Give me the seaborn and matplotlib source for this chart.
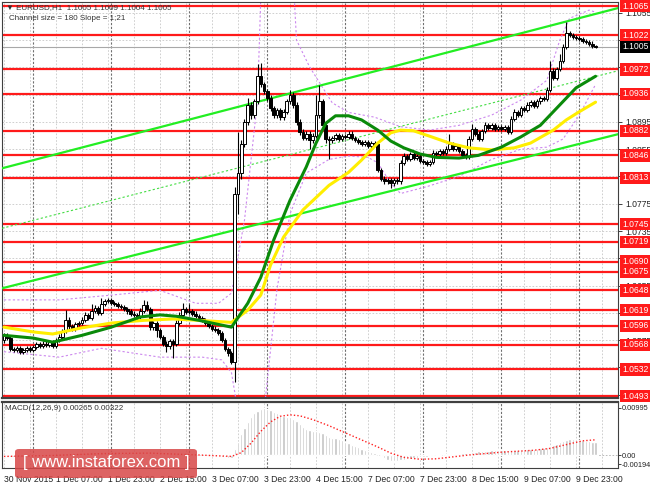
import numpy as np
import matplotlib
matplotlib.use("Agg")
import matplotlib.pyplot as plt
import matplotlib.transforms as mtransforms
from matplotlib.patches import FancyBboxPatch
import seaborn as sns

# ---------------------------------------------------------------
# EURUSD H1, bar 0 = 30 Nov 2015 15:00 ... bar 182 = 10 Dec 05:00
# ---------------------------------------------------------------
first_open = 1.0575
close = [
    1.0582, 1.0578, 1.0562, 1.0560, 1.0563, 1.0558, 1.0561, 1.0564, 1.0560, 1.0565,
    1.0569, 1.0566, 1.0570, 1.0568, 1.0572, 1.0566, 1.0575, 1.0580, 1.0588, 1.0605,
    1.0596, 1.0592, 1.0598, 1.0600, 1.0605, 1.0612, 1.0608, 1.0618, 1.0622, 1.0615,
    1.0628, 1.0632, 1.0634, 1.0630, 1.0628, 1.0625, 1.0624, 1.0620, 1.0617, 1.0614,
    1.0612, 1.0609, 1.0618, 1.0626, 1.0620, 1.0594, 1.0600, 1.0590, 1.0580, 1.0570,
    1.0566, 1.0574, 1.0570, 1.0600, 1.0612, 1.0620, 1.0616, 1.0618, 1.0614, 1.0611,
    1.0608, 1.0604, 1.0600, 1.0596, 1.0592, 1.0590, 1.0586, 1.0575, 1.0562, 1.0556,
    1.0543, 1.0790, 1.0820, 1.0862, 1.0895, 1.0920, 1.0905, 1.0925, 1.0962, 1.0950,
    1.0940, 1.0930, 1.0915, 1.0905, 1.0912, 1.0902, 1.0910, 1.0925, 1.0935, 1.0920,
    1.0895, 1.0880, 1.0872, 1.0878, 1.0868, 1.0875, 1.0905, 1.0925, 1.0890, 1.0870,
    1.0868, 1.0872, 1.0876, 1.0870, 1.0874, 1.0873, 1.0878, 1.0872, 1.0868, 1.0866,
    1.0863, 1.0865, 1.0860, 1.0864, 1.0862, 1.0825, 1.0812, 1.0808, 1.0810, 1.0805,
    1.0810, 1.0808, 1.0835, 1.0845, 1.0840, 1.0848, 1.0842, 1.0845, 1.0838, 1.0836,
    1.0834, 1.0836, 1.0850, 1.0848, 1.0852, 1.0850, 1.0856, 1.0862, 1.0855, 1.0860,
    1.0852, 1.0846, 1.0844, 1.0870, 1.0885, 1.0878, 1.0870, 1.0882, 1.0890, 1.0886,
    1.0890, 1.0885, 1.0888, 1.0884, 1.0888, 1.0880, 1.0900, 1.0910, 1.0905, 1.0915,
    1.0912, 1.0920, 1.0924, 1.0918, 1.0925, 1.0930, 1.0928, 1.0942, 1.0970, 1.0960,
    1.0972, 1.0985, 1.1005, 1.1025, 1.1022, 1.1020, 1.1018, 1.1016, 1.1014, 1.1012,
    1.1010, 1.1006, 1.1005,
]
# wick lengths above / below the candle body, in pips
upper_wick_pips = [
    4, 3, 3, 3, 3, 3, 3, 3, 3, 3,
    3, 3, 3, 3, 3, 3, 3, 4, 4, 14,
    4, 3, 3, 3, 4, 4, 3, 10, 4, 3,
    9, 4, 3, 3, 3, 3, 3, 3, 3, 3,
    3, 3, 4, 8, 7, 3, 3, 3, 3, 3,
    3, 3, 3, 4, 4, 10, 3, 10, 3, 3,
    3, 3, 3, 3, 3, 3, 3, 3, 3, 3,
    3, 10, 60, 6, 5, 10, 4, 4, 18, 20,
    4, 4, 4, 4, 4, 4, 4, 4, 7, 4,
    4, 4, 4, 4, 4, 4, 30, 24, 4, 4,
    4, 3, 3, 3, 3, 3, 3, 3, 3, 3,
    3, 3, 3, 3, 3, 3, 3, 3, 3, 3,
    3, 3, 4, 4, 3, 3, 3, 3, 3, 3,
    3, 3, 4, 3, 3, 3, 3, 16, 3, 3,
    3, 3, 3, 4, 7, 3, 3, 3, 5, 3,
    3, 3, 3, 3, 3, 3, 4, 4, 3, 4,
    3, 4, 3, 3, 3, 3, 3, 4, 15, 4,
    4, 10, 4, 17, 3, 3, 3, 3, 3, 3,
    3, 3, 2,
]
lower_wick_pips = [
    4, 3, 3, 3, 3, 3, 3, 3, 3, 3,
    3, 3, 3, 3, 3, 3, 3, 3, 3, 3,
    4, 3, 3, 3, 3, 3, 3, 3, 3, 3,
    3, 3, 3, 3, 3, 3, 3, 3, 3, 3,
    3, 3, 3, 3, 3, 4, 4, 10, 4, 4,
    8, 4, 21, 3, 3, 3, 3, 3, 3, 3,
    3, 3, 3, 3, 3, 3, 3, 3, 3, 4,
    3, 30, 30, 8, 4, 4, 6, 4, 4, 4,
    4, 4, 4, 4, 4, 4, 4, 4, 4, 4,
    4, 4, 4, 4, 13, 4, 4, 4, 4, 6,
    28, 4, 3, 3, 3, 3, 3, 3, 3, 3,
    3, 3, 3, 3, 3, 4, 4, 4, 4, 7,
    4, 4, 4, 3, 3, 3, 3, 3, 3, 3,
    3, 3, 3, 3, 3, 3, 3, 3, 3, 3,
    3, 3, 3, 3, 3, 3, 3, 3, 3, 3,
    3, 3, 3, 3, 3, 3, 3, 3, 3, 3,
    3, 3, 3, 3, 3, 3, 3, 3, 3, 3,
    3, 3, 3, 3, 3, 3, 3, 3, 3, 3,
    3, 3, 2,
]

# moving averages (bar, price)
ma_green_bars = [0, 9, 15, 24, 33, 42, 48, 53, 60, 70, 75, 79, 83, 88, 93, 96, 99, 102,
                 106, 110, 115, 119, 123, 128, 133, 140, 146, 153, 159, 165, 171, 176, 182]
ma_green = [1.0582, 1.0578, 1.0572, 1.0582, 1.0594, 1.0609, 1.0612, 1.0610, 1.0604, 1.0594,
            1.0629, 1.0667, 1.0722, 1.0780, 1.0829, 1.0864, 1.0893, 1.0904, 1.0904, 1.0898,
            1.0883, 1.0867, 1.0857, 1.0848, 1.0843, 1.0842, 1.0846, 1.0858, 1.0873, 1.0890,
            1.0920, 1.0945, 1.0962]
ma_yellow_bars = [0, 9, 15, 24, 33, 43, 52, 60, 70, 75, 79, 82, 86, 92, 100, 106, 110, 115,
                  119, 122, 126, 131, 137, 143, 150, 157, 162, 169, 173, 177, 182]
ma_yellow = [1.0594, 1.0587, 1.0584, 1.0593, 1.0600, 1.0604, 1.0606, 1.0604, 1.0601, 1.0619,
             1.0641, 1.0685, 1.0726, 1.0766, 1.0802, 1.0821, 1.0839, 1.0864, 1.0879, 1.0883,
             1.0882, 1.0874, 1.0864, 1.0857, 1.0854, 1.0857, 1.0864, 1.0883, 1.0898, 1.0910,
             1.0924]

# envelope bands (violet dotted)
band_up_bars = [0, 17, 33, 48, 59, 66, 70, 74, 78, 79.5, 88.5, 90, 94, 101, 106, 114, 122,
                131, 140, 150, 159, 167, 171, 174, 180, 182]
band_up = [1.0634, 1.0634, 1.0641, 1.0648, 1.0629, 1.0629, 1.0644, 1.0751, 1.0927, 1.1150,
           1.1150, 1.1015, 1.0976, 1.0923, 1.0909, 1.0902, 1.0888, 1.0883, 1.0890, 1.0905,
           1.0927, 1.0956, 1.1015, 1.1047, 1.1059, 1.1056]
band_lo_bars = [0, 17, 30, 48, 61, 67, 70, 72, 79, 80, 84, 88, 93, 100, 106, 112, 115, 119,
                122, 130, 140, 150, 159, 167, 172, 177, 182]
band_lo = [1.0558, 1.0550, 1.0563, 1.0550, 1.0550, 1.0546, 1.0527, 1.0470, 1.0420, 1.0470,
           1.0650, 1.0760, 1.0820, 1.0840, 1.0845, 1.0843, 1.0835, 1.0805, 1.0790, 1.0800,
           1.0815, 1.0840, 1.0855, 1.0858, 1.0870, 1.0905, 1.0950]

# regression channel (ends at the chart edges)
channel_bars = [-0.6, 188.9]
channel_upper = [1.0827, 1.1062]
channel_mid = [1.0739, 1.0970]
channel_lower = [1.0651, 1.0877]

# horizontal support / resistance levels
level_prices = [1.1065, 1.1022, 1.0972, 1.0936, 1.0882, 1.0846, 1.0813, 1.0745, 1.0719,
                1.0690, 1.0675, 1.0648, 1.0619, 1.0596, 1.0568, 1.0532, 1.0493]
last_price = 1.1005
grid_prices = [1.1055, 1.1015, 1.0975, 1.0935, 1.0895, 1.0855, 1.0815, 1.0775, 1.0735,
               1.0695, 1.0655, 1.0615, 1.0575, 1.0535, 1.0495]
# scale labels that are not hidden behind a level box
scale_labels = [1.1055, 1.0895, 1.0855, 1.0775, 1.0735, 1.0695, 1.0655, 1.0615, 1.0575]

# time axis
date_label_bars = [0, 16, 32, 48, 64, 80, 96, 112, 128, 144, 160, 176]
date_labels = ["30 Nov 2015", "1 Dec 07:00", "1 Dec 23:00", "2 Dec 15:00", "3 Dec 07:00",
               "3 Dec 23:00", "4 Dec 15:00", "7 Dec 07:00", "7 Dec 23:00", "8 Dec 15:00",
               "9 Dec 07:00", "9 Dec 23:00"]
day_start_bars = [9, 33, 57, 81, 105, 129, 153, 177]

# MACD(12,26,9) histogram, one value per bar
macd_hist = [
    -0.0004, -0.0004, -0.0005, -0.0005, -0.0005, -0.0004, -0.0004, -0.0003, -0.0003,
    -0.0003, -0.0002, -0.0002, -0.0002, -0.0001, -0.0001, -0.0001, 0.0000, 0.0001,
    0.0002, 0.0003, 0.0003, 0.0003, 0.0004, 0.0004, 0.0005, 0.0005, 0.0005, 0.0006, 0.0006,
    0.0006, 0.0007, 0.0007, 0.0007,
    0.0006, 0.0006, 0.0005, 0.0005, 0.0004, 0.0004, 0.0003, 0.0003, 0.0002, 0.0003, 0.0003,
    0.0003,
    0.0001, 0.0000, -0.0001, -0.0002, -0.0003, -0.0003, -0.0003, -0.0003, -0.0001, 0.0000,
    0.0001, 0.0001,
    0.0001, 0.0001, 0.0001, 0.0000, 0.0000, -0.0001, -0.0001, -0.0002, -0.0002, -0.0003,
    -0.0004, -0.0005, -0.0006, -0.0007,
    0.0012, 0.0028, 0.0044, 0.0058, 0.0070, 0.0080, 0.0088, 0.0094, 0.0098, 0.0099,
    0.0098, 0.0095, 0.0091, 0.0088, 0.0085, 0.0083, 0.0081, 0.0080, 0.0077, 0.0071,
    0.0065, 0.0060, 0.0056, 0.0052, 0.0050, 0.0050, 0.0049, 0.0046, 0.0042, 0.0039,
    0.0037, 0.0035, 0.0033, 0.0031, 0.0028, 0.0025, 0.0022, 0.0019, 0.0016, 0.0013,
    0.0010, 0.0008, 0.0006, 0.0004, 0.0001, -0.0003,
    -0.0007, -0.0010, -0.0012, -0.0012, -0.0012, -0.0011, -0.0010, -0.0009, -0.0008,
    -0.0007, -0.0006, -0.0005, -0.0005, -0.0004,
    -0.0003, -0.0002, -0.0001, 0.0000, 0.0001, 0.0002, 0.0002, 0.0003, 0.0003, 0.0003,
    0.0004, 0.0004, 0.0005, 0.0006, 0.0007,
    0.0008, 0.0008, 0.0009, 0.0009, 0.0010, 0.0010, 0.0010, 0.0010, 0.0010, 0.0010,
    0.0010, 0.0011, 0.0011, 0.0011, 0.0012,
    0.0012, 0.0012, 0.0013, 0.0013, 0.0014, 0.0015, 0.0016, 0.0019, 0.0021, 0.0024,
    0.0027, 0.0029, 0.0031, 0.0033, 0.0033, 0.0033, 0.0032, 0.0031, 0.0030, 0.0029,
    0.0028, 0.00265,
]
signal_bars = [0, 15, 30, 45, 60, 70, 73, 76, 79, 82, 85, 88, 91, 95, 100, 105, 110, 115,
               119, 123, 128, 133, 138, 143, 148, 153, 158, 163, 168, 173, 178, 182]
signal = [-0.0003, -0.0001, 0.0003, 0.0004, 0.0000, -0.0003, 0.0005, 0.0025, 0.0050,
          0.0070, 0.0082, 0.0085, 0.0083, 0.0075, 0.0062, 0.0047, 0.0032, 0.0017, 0.0004,
          -0.0005, -0.0009, -0.0008, -0.0004, 0.0000, 0.0003, 0.0006, 0.0008, 0.0010,
          0.0014, 0.0022, 0.0030, 0.00322]
macd_scale = [0.00995, 0.0, -0.00194]
macd_scale_text = ["0.00995", "0.00", "-0.00194"]

# ---------------------------------------------------------------
sns.set_style("white")
plt.rcParams['font.family'] = ['Liberation Sans', 'DejaVu Sans']

W, H = 650, 488
fig = plt.figure(figsize=(6.5, 4.88), dpi=100)


def fx(px):
    return px / W


def fy(py):
    return 1 - py / H


ax = fig.add_axes([fx(2), fy(398), fx(616), 396 / H])
ax2 = fig.add_axes([fx(2), fy(468), fx(616), 66 / H])

bars = np.arange(len(close))
c = np.array(close)
o = np.r_[first_open, c[:-1]]
hi = np.maximum(o, c) + np.array(upper_wick_pips) * 0.0001
lo = np.minimum(o, c) - np.array(lower_wick_pips) * 0.0001

XMIN, XMAX = -0.6, 188.9
PMIN, PMAX = 1.04901, 1.10709
FS = 6.2

# grid
for b in range(0, 189, 8):
    for a in (ax, ax2):
        a.axvline(b, color="#c8c8c8", lw=0.6, ls=(0, (2, 2)), zorder=0)
for b in day_start_bars:
    for a in (ax, ax2):
        a.axvline(b, color="#707070", lw=0.8, ls=(0, (2, 1.5)), zorder=0)
for p in grid_prices:
    ax.axhline(p, color="#c8c8c8", lw=0.6, ls=(0, (2, 2)), zorder=0)
ax.axhline(last_price, color="#a8a8a8", lw=0.8, zorder=1)

# support / resistance lines
for p in level_prices:
    ax.axhline(p, color="#ff1a1a", lw=1.6, zorder=2)

# bands
sns.lineplot(x=band_up_bars, y=band_up, ax=ax, color="#cc88ee", lw=0.8,
             linestyle=(0, (2, 2)), zorder=2)
sns.lineplot(x=band_lo_bars, y=band_lo, ax=ax, color="#cc88ee", lw=0.8,
             linestyle=(0, (2, 2)), zorder=2)

# channel
sns.lineplot(x=channel_bars, y=channel_upper, ax=ax, color="#22ee22", lw=1.6, zorder=3)
sns.lineplot(x=channel_bars, y=channel_lower, ax=ax, color="#22ee22", lw=1.6, zorder=3)
sns.lineplot(x=channel_bars, y=channel_mid, ax=ax, color="#44dd44", lw=0.8,
             linestyle=(0, (2, 2)), zorder=3)

# candles
ax.vlines(bars, lo, hi, color="black", lw=0.8, zorder=4)
body_lo = np.minimum(o, c)
body_h = np.maximum(np.abs(c - o), 0.00008)
face = np.where(c >= o, "white", "black")
ax.bar(bars, body_h, bottom=body_lo, width=0.8, color=face, edgecolor="black",
       linewidth=0.7, zorder=5)

# moving averages
sns.lineplot(x=ma_yellow_bars, y=ma_yellow, ax=ax, color="#ffee00", lw=2.2, zorder=6)
sns.lineplot(x=ma_green_bars, y=ma_green, ax=ax, color="#0a8a0a", lw=2.2, zorder=6)

ax.set_xlim(XMIN, XMAX)
ax.set_ylim(PMIN, PMAX)
ax.set_xticks([])
ax.yaxis.tick_right()
ax.set_yticks(grid_prices)
ax.set_yticklabels([f"{p:.4f}" if p in scale_labels else "" for p in grid_prices])
ax.tick_params(axis="y", labelsize=FS, length=3, pad=2, colors="#222222", width=0.6)

# price labels on the right edge
trans = mtransforms.blended_transform_factory(ax.transAxes, ax.transData)
xlab = (622 - 2) / 616
for p in level_prices:
    ax.text(xlab, p, f"{p:.4f}", transform=trans, fontsize=FS, color="white",
            va="center", ha="left", clip_on=False, zorder=10,
            bbox=dict(boxstyle="square,pad=0.2", fc="#ff1a1a", ec="none"))
ax.text(xlab, last_price, f"{last_price:.4f}", transform=trans, fontsize=FS,
        color="white", va="center", ha="left", clip_on=False, zorder=10,
        bbox=dict(boxstyle="square,pad=0.2", fc="black", ec="none"))

for s in ax.spines.values():
    s.set_color("#404040")
    s.set_linewidth(0.8)
ax.spines["bottom"].set_linewidth(1.6)

# MACD panel
ax2.bar(bars, macd_hist, width=0.75, color="#c4c4c4", zorder=2)
ax2.axhline(0, color="#b0b0b0", lw=0.6, ls=(0, (2, 2)), zorder=1)
sns.lineplot(x=signal_bars, y=signal, ax=ax2, color="#ff2020", lw=1.0,
             linestyle=(0, (1, 1.5)), zorder=3)
ax2.set_xlim(XMIN, XMAX)
ax2.set_ylim(-0.00275, 0.01122)
ax2.yaxis.tick_right()
ax2.set_yticks(macd_scale)
ax2.set_yticklabels(macd_scale_text)
ax2.tick_params(axis="y", labelsize=5.3, length=2, pad=1, colors="#222222", width=0.6)
ax2.set_xticks(date_label_bars)
ax2.set_xticklabels(date_labels, ha="left")
ax2.tick_params(axis="x", labelsize=FS, length=3, pad=2, colors="#222222", width=0.6)
for s in ax2.spines.values():
    s.set_color("#404040")
    s.set_linewidth(0.8)
ax2.spines["top"].set_linewidth(1.6)

# header texts
fig.text(fx(6), fy(8), "\u25bc EURUSD,H1  1.1005 1.1009 1.1004 1.1005", fontsize=5.8,
         color="#333333", va="center")
fig.text(fx(9), fy(19), "Channel size = 180 Slope = 1;21", fontsize=5.8,
         color="#333333", va="center")
fig.text(fx(5), fy(408), "MACD(12,26,9) 0.00265 0.00322", fontsize=5.8,
         color="#333333", va="center")

# watermark
wm = FancyBboxPatch((fx(15), fy(478)), fx(182), 29 / H,
                    boxstyle="round,pad=0,rounding_size=0.006",
                    transform=fig.transFigure, fc="#d84848", ec="none", alpha=0.85,
                    zorder=20)
fig.patches.append(wm)
fig.text(fx(106), fy(463), "[ www.instaforex.com ]", fontsize=12, color="white",
         ha="center", va="center", zorder=21)

fig.savefig("out.png", dpi=100)
